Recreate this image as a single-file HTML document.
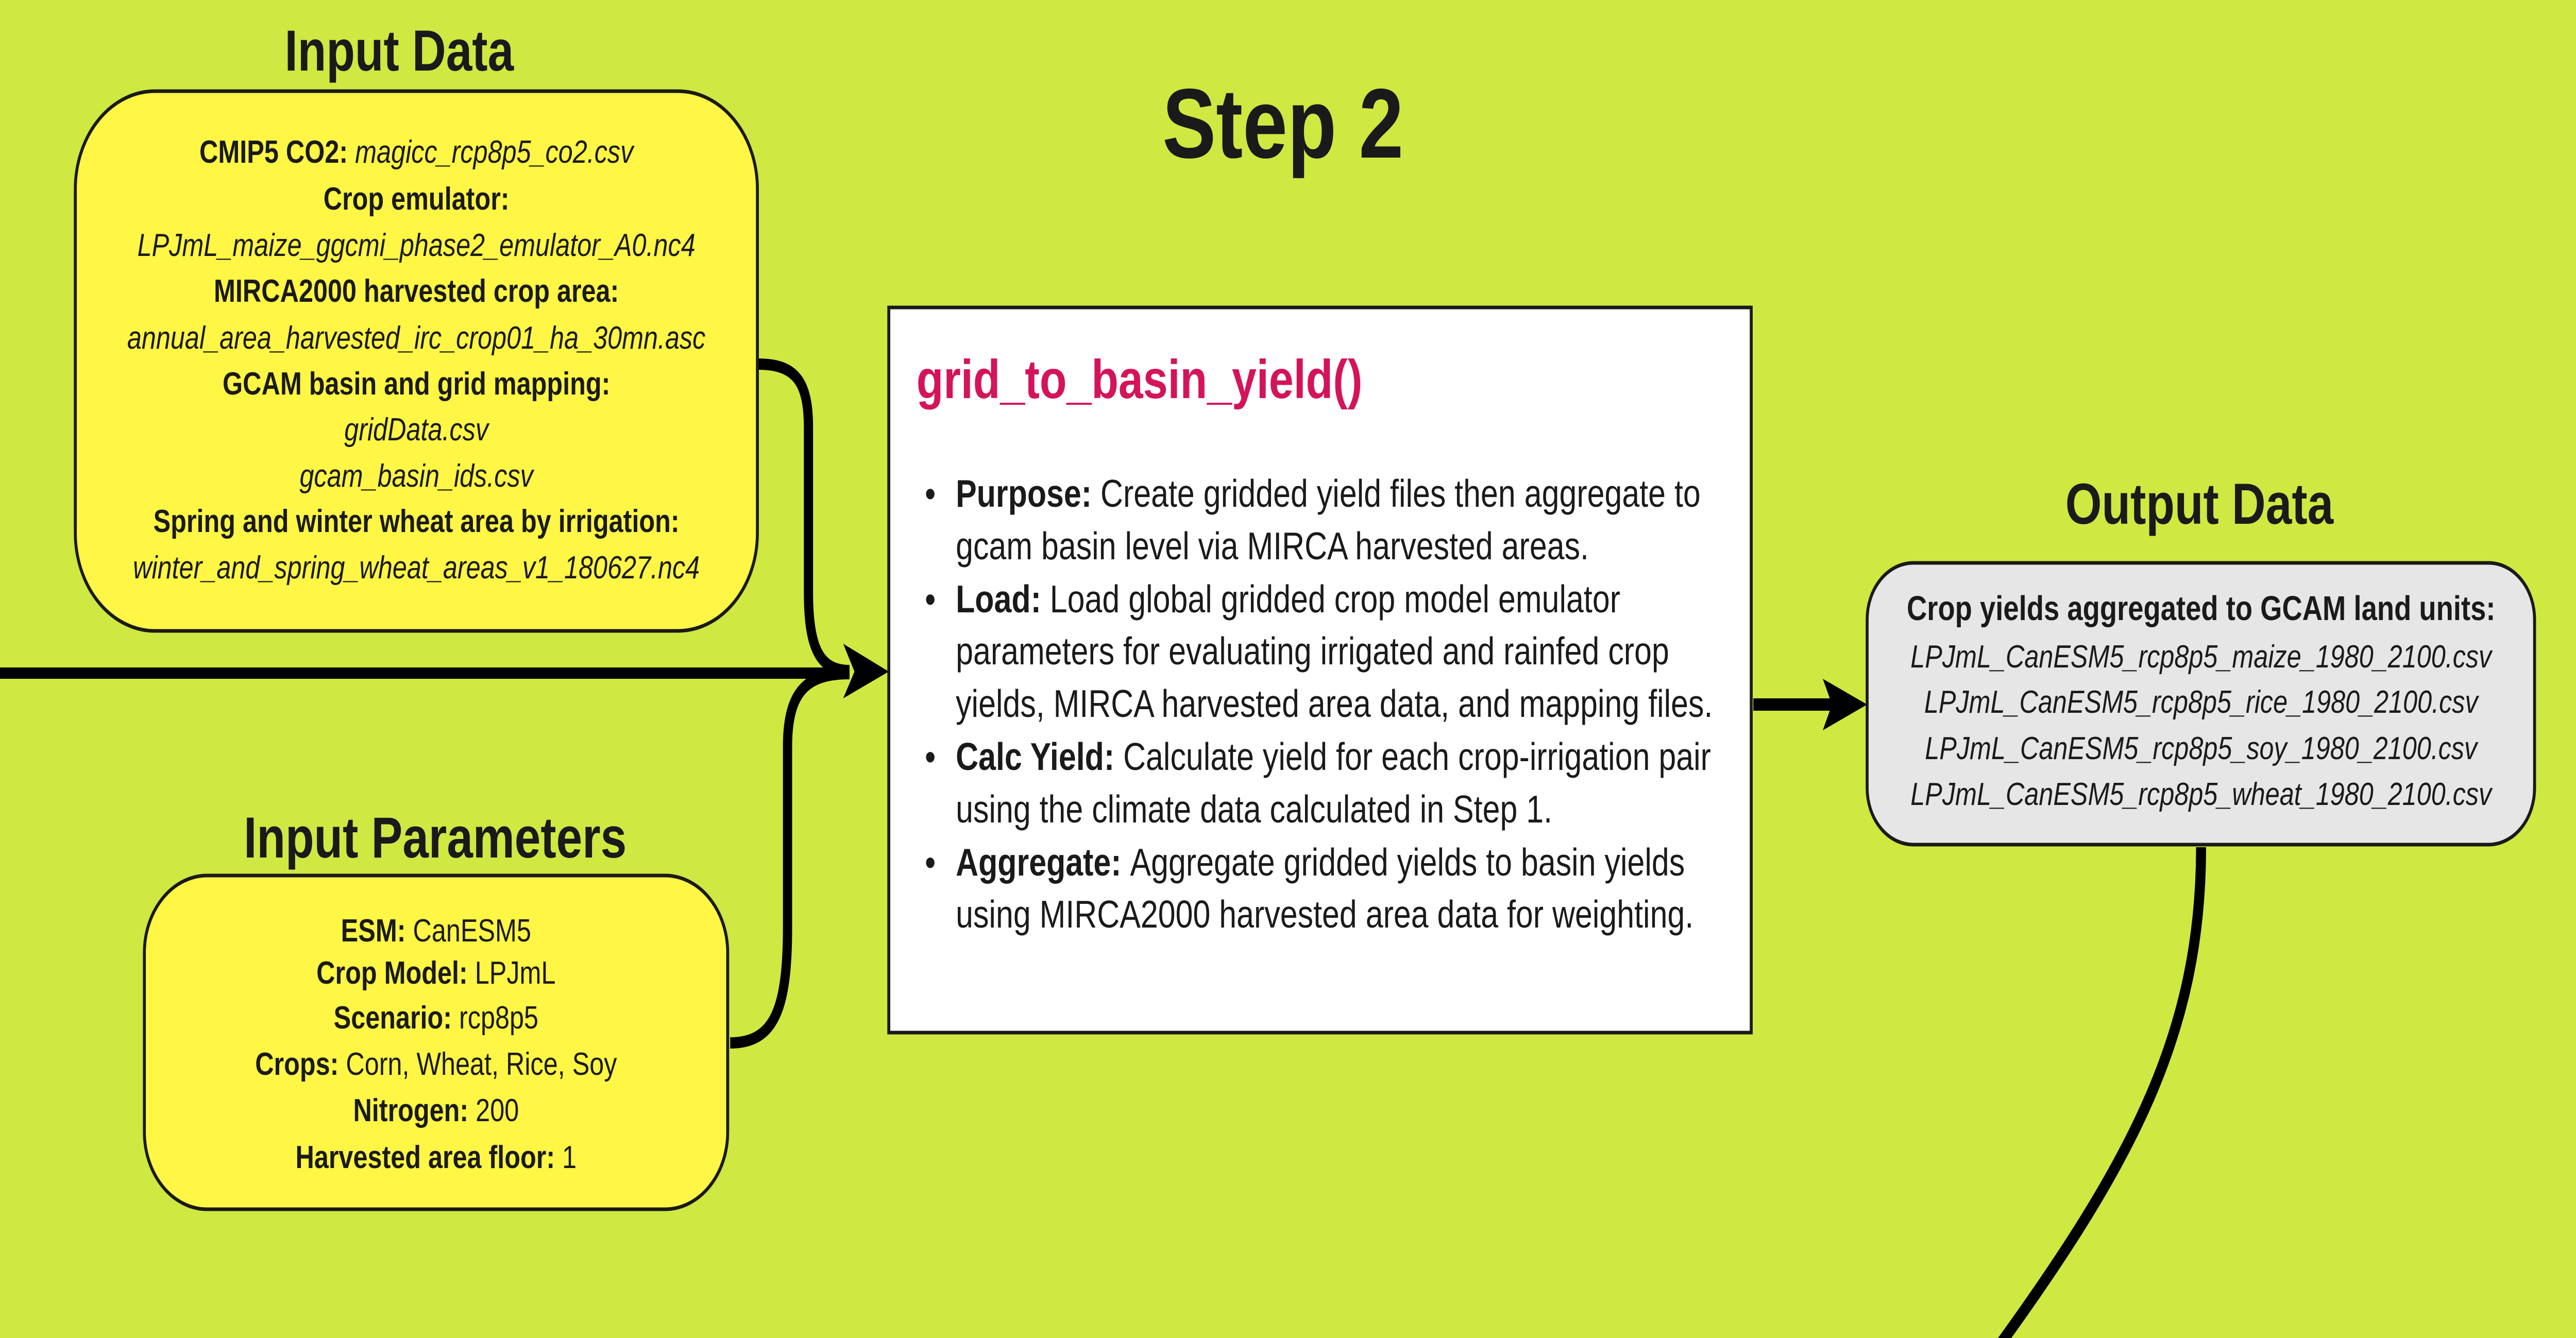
<!DOCTYPE html>
<html><head><meta charset="utf-8"><style>
html,body{margin:0;padding:0;background:#cfe842;width:100%;height:100%;overflow:hidden;}
svg{display:block;width:100vw;height:100vh;font-family:"Liberation Sans",sans-serif;}
.b{font-weight:bold;} .i{font-style:italic;}
</style></head><body>
<svg viewBox="0 0 6156 2598" preserveAspectRatio="none" xmlns="http://www.w3.org/2000/svg">
<rect x="0" y="0" width="6156" height="2598" fill="#cfe842"/>
<g fill="#1a1a1a">
<text x="954" y="137" font-size="112" class="b" text-anchor="middle">Input Data</text>
<text x="3066" y="306" font-size="192" class="b" text-anchor="middle">Step 2</text>
<text x="1040" y="1665" font-size="112" class="b" text-anchor="middle">Input Parameters</text>
<text x="5256" y="1017" font-size="112" class="b" text-anchor="middle">Output Data</text>
</g>
<g fill="none" stroke="#000" stroke-width="22">
<path d="M0 1307 L2030 1307"/>
<path d="M1812 707 C1900 707 1932 740 1932 830 L1932 1150 C1932 1260 1960 1302 2030 1302"/>
<path d="M1745 2025 C1850 2025 1882 1960 1882 1800 L1882 1450 C1882 1340 1930 1308 2030 1308"/>
<path d="M4190 1368 L4380 1368" stroke-width="24"/>
<path d="M5260 1645 C5260 2000 5100 2250 4780 2610" stroke-width="24"/>
</g>
<polygon points="2124,1304 2015,1250 2042,1304 2015,1356" fill="#000"/>
<polygon points="4462,1368 4356,1318 4378,1368 4356,1418" fill="#000"/>
<rect x="180" y="177" width="1630" height="1048" rx="190" ry="190" fill="#fff645" stroke="#1a1a1a" stroke-width="7"/>
<g font-size="62" fill="#1a1a1a" text-anchor="middle">
<text x="995" y="316"><tspan class="b">CMIP5 CO2: </tspan><tspan class="i">magicc_rcp8p5_co2.csv</tspan></text>
<text x="995" y="407" class="b">Crop emulator:</text>
<text x="995" y="497" class="i">LPJmL_maize_ggcmi_phase2_emulator_A0.nc4</text>
<text x="995" y="586" class="b">MIRCA2000 harvested crop area:</text>
<text x="995" y="677" class="i">annual_area_harvested_irc_crop01_ha_30mn.asc</text>
<text x="995" y="766" class="b">GCAM basin and grid mapping:</text>
<text x="995" y="855" class="i">gridData.csv</text>
<text x="995" y="945" class="i">gcam_basin_ids.csv</text>
<text x="995" y="1033" class="b">Spring and winter wheat area by irrigation:</text>
<text x="995" y="1123" class="i">winter_and_spring_wheat_areas_v1_180627.nc4</text>
</g>
<rect x="345" y="1700" width="1394" height="648" rx="150" ry="150" fill="#fff645" stroke="#1a1a1a" stroke-width="7"/>
<g font-size="62" fill="#1a1a1a" text-anchor="middle">
<text x="1042" y="1828"><tspan class="b">ESM: </tspan>CanESM5</text>
<text x="1042" y="1910"><tspan class="b">Crop Model: </tspan>LPJmL</text>
<text x="1042" y="1997"><tspan class="b">Scenario: </tspan>rcp8p5</text>
<text x="1042" y="2087"><tspan class="b">Crops: </tspan>Corn, Wheat, Rice, Soy</text>
<text x="1042" y="2177"><tspan class="b">Nitrogen: </tspan>200</text>
<text x="1042" y="2268"><tspan class="b">Harvested area floor: </tspan>1</text>
</g>
<rect x="2124" y="597" width="2061" height="1408" fill="#ffffff" stroke="#1a1a1a" stroke-width="7"/>
<text x="2190" y="773" font-size="106" class="b" fill="#d4145a">grid_to_basin_yield()</text>
<g font-size="75" fill="#1a1a1a">
<text x="2210" y="984">•</text>
<text x="2284" y="984"><tspan class="b">Purpose: </tspan>Create gridded yield files then aggregate to</text>
<text x="2284" y="1086">gcam basin level via MIRCA harvested areas.</text>
<text x="2210" y="1189">•</text>
<text x="2284" y="1189"><tspan class="b">Load: </tspan>Load global gridded crop model emulator</text>
<text x="2284" y="1290">parameters for evaluating irrigated and rainfed crop</text>
<text x="2284" y="1392">yields, MIRCA harvested area data, and mapping files.</text>
<text x="2210" y="1495">•</text>
<text x="2284" y="1495"><tspan class="b">Calc Yield: </tspan>Calculate yield for each crop-irrigation pair</text>
<text x="2284" y="1597">using the climate data calculated in Step 1.</text>
<text x="2210" y="1700">•</text>
<text x="2284" y="1700"><tspan class="b">Aggregate: </tspan>Aggregate gridded yields to basin yields</text>
<text x="2284" y="1801">using MIRCA2000 harvested area data for weighting.</text>
</g>
<rect x="4462" y="1093" width="1595" height="547" rx="110" ry="110" fill="#e6e6e6" stroke="#1a1a1a" stroke-width="7"/>
<g font-size="62" fill="#1a1a1a" text-anchor="middle">
<text x="5260" y="1204" class="b" font-size="67">Crop yields aggregated to GCAM land units:</text>
<text x="5260" y="1296" class="i">LPJmL_CanESM5_rcp8p5_maize_1980_2100.csv</text>
<text x="5260" y="1384" class="i">LPJmL_CanESM5_rcp8p5_rice_1980_2100.csv</text>
<text x="5260" y="1474" class="i">LPJmL_CanESM5_rcp8p5_soy_1980_2100.csv</text>
<text x="5260" y="1563" class="i">LPJmL_CanESM5_rcp8p5_wheat_1980_2100.csv</text>
</g>
</svg>
</body></html>
